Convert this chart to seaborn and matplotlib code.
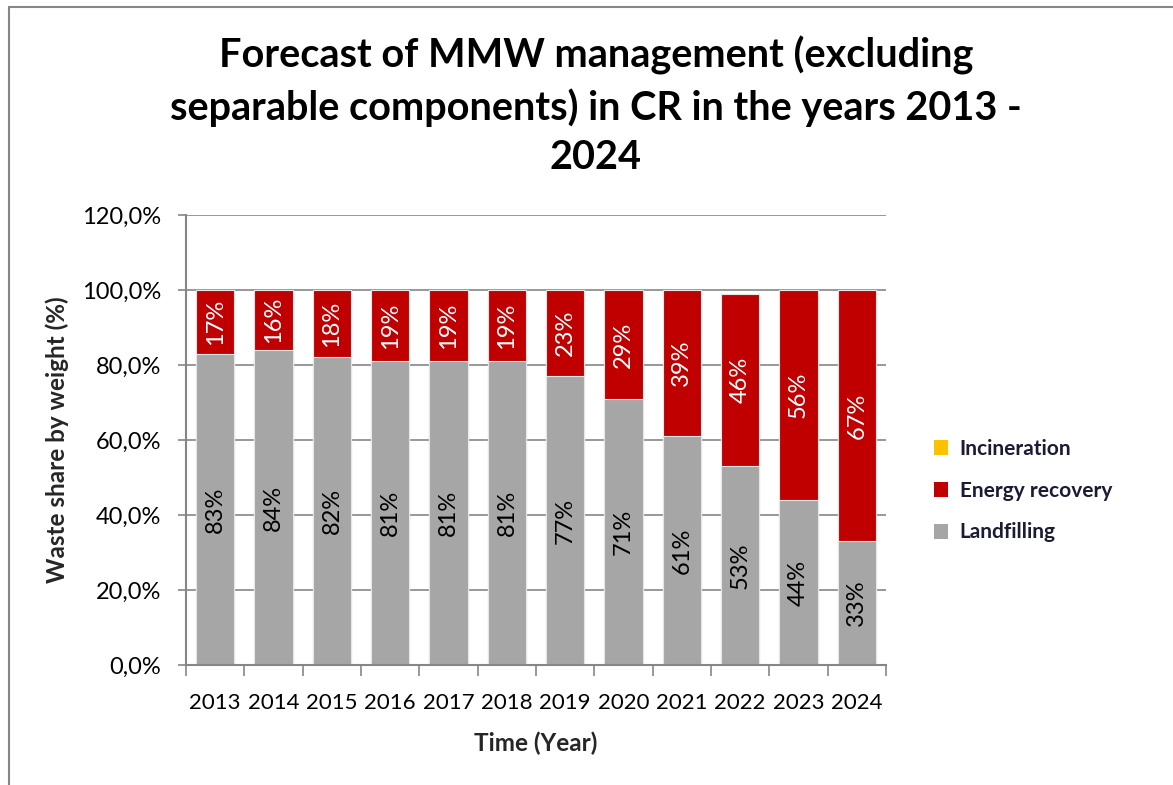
import matplotlib
matplotlib.use("Agg")
import matplotlib.pyplot as plt
from matplotlib.patches import Patch
from matplotlib.lines import Line2D
from matplotlib.ticker import FixedLocator, FuncFormatter
import numpy as np
import pandas as pd
import seaborn as sns

years = ["2013", "2014", "2015", "2016", "2017", "2018",
         "2019", "2020", "2021", "2022", "2023", "2024"]
landfilling = [83, 84, 82, 81, 81, 81, 77, 71, 61, 53, 44, 33]
energy_recovery = [17, 16, 18, 19, 19, 19, 23, 29, 39, 46, 56, 67]
incineration = [0, 0, 0, 0, 0, 0, 0, 0, 0, 0, 0, 0]

title = "Forecast of MMW management (excluding\nseparable components) in CR in the years 2013 -\n2024"
x_label = "Time (Year)"
y_label = "Waste share by weight (%)"
y_ticks = [0, 20, 40, 60, 80, 100, 120]

GRAY = "#A6A6A6"
RED = "#C00000"
YELLOW = "#FFC000"
AXIS = "#868686"
LEGEND_TXT = "#1b1b33"

sns.set_style("white")
plt.rcParams["font.family"] = ["Lato", "DejaVu Sans"]

df = pd.DataFrame({
    "year": years,
    "landfilling": landfilling,
    "energy": energy_recovery,
    "incineration": incineration,
})
df["cum_energy"] = df["landfilling"] + df["energy"]
df["cum_incin"] = df["cum_energy"] + df["incineration"]

fig = plt.figure(figsize=(11.73, 7.85), dpi=100)
ax = fig.add_axes([0.1586, 0.1529, 0.5968, 0.5732])

bar_w = 0.66
common = dict(ax=ax, width=bar_w, edgecolor="#e6e6e6", linewidth=0.8,
              saturation=1, zorder=3)
sns.barplot(data=df, x="year", y="cum_incin", color=YELLOW, **common)
sns.barplot(data=df, x="year", y="cum_energy", color=RED, **common)
sns.barplot(data=df, x="year", y="landfilling", color=GRAY, **common)

# value labels, rotated inside each segment
for i, row in df.iterrows():
    ax.text(i, row["landfilling"] / 2, f"{row['landfilling']}%", rotation=90,
            ha="center", va="center", fontsize=17, color="black", zorder=5)
    ax.text(i, row["landfilling"] + row["energy"] / 2, f"{row['energy']}%",
            rotation=90, ha="center", va="center", fontsize=17,
            color="white", zorder=5)

ax.set_ylim(0, 120)
ax.set_xlim(-0.5, len(years) - 0.5)
ax.yaxis.set_major_locator(FixedLocator(y_ticks))
ax.yaxis.set_major_formatter(FuncFormatter(lambda v, p: f"{v:.1f}%".replace(".", ",")))
ax.grid(axis="y", color=AXIS, linewidth=1.2, zorder=0)
ax.set_axisbelow(True)

for side in ["top", "right"]:
    ax.spines[side].set_visible(False)
for side in ["left", "bottom"]:
    ax.spines[side].set_color(AXIS)
    ax.spines[side].set_linewidth(1.5)
    ax.spines[side].set_zorder(4)

ax.tick_params(axis="y", which="major", left=True, length=6, width=1.2,
               color=AXIS, labelsize=17, pad=12, labelcolor="black")
ax.tick_params(axis="x", which="major", bottom=False, labelsize=16, pad=17,
               labelcolor="black")
ax.xaxis.set_minor_locator(FixedLocator(np.arange(-0.5, len(years), 1.0)))
ax.tick_params(axis="x", which="minor", bottom=True, length=8, width=1.2,
               color=AXIS)

ax.set_xlabel(x_label, fontsize=17.5, fontweight="bold", labelpad=13)
ax.set_ylabel(y_label, fontsize=17.5, fontweight="bold", labelpad=9)

fig.text(0.508, 0.954, title, ha="center", va="top", fontsize=28.5,
         fontweight="bold", linespacing=1.4, color="black")

handles = [Patch(facecolor=YELLOW, edgecolor="none", label="Incineration"),
           Patch(facecolor=RED, edgecolor="none", label="Energy recovery"),
           Patch(facecolor=GRAY, edgecolor="none", label="Landfilling")]
leg = fig.legend(handles=handles, loc="center left",
                 bbox_to_anchor=(0.78, 0.375), frameon=False,
                 prop={"size": 15, "weight": "bold"}, handlelength=0.7,
                 handleheight=0.7, handletextpad=0.55, labelspacing=1.05)
for t in leg.get_texts():
    t.set_color(LEGEND_TXT)

# chart frame
fig.add_artist(Line2D([8.5 / 1173, 8.5 / 1173], [0, 1 - 7 / 785],
                      transform=fig.transFigure, color=AXIS, linewidth=1.5))
fig.add_artist(Line2D([8.5 / 1173, 1], [1 - 7 / 785, 1 - 7 / 785],
                      transform=fig.transFigure, color=AXIS, linewidth=1.5))

fig.savefig("out.png", dpi=100, facecolor="white")
